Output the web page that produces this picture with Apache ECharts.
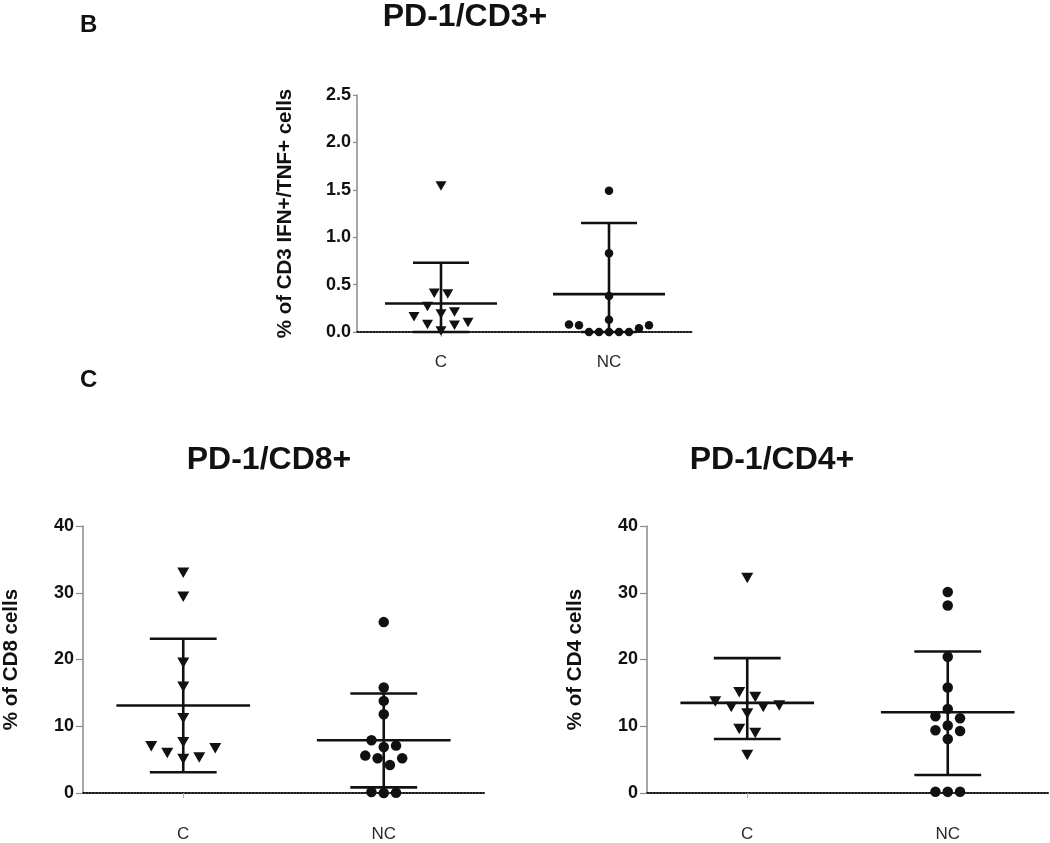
<!DOCTYPE html>
<html><head><meta charset="utf-8">
<script src="https://cdn.jsdelivr.net/npm/echarts@6/dist/echarts.min.js"></script>
<style>html,body{margin:0;padding:0;background:#fff}#main{width:1050px;height:843px}</style>
</head><body><div id="main"></div>
<script>
// ---------- data ----------
const categories = ['C', 'NC'];

// Panel B: PD-1/CD3+  (% of CD3 IFN+/TNF+ cells)
const cd3C  = [1.54, 0.41, 0.40, 0.27, 0.21, 0.19, 0.16, 0.10, 0.08, 0.07, 0.01];
const cd3NC = [1.49, 0.83, 0.38, 0.13, 0.08, 0.07, 0.07, 0.04, 0, 0, 0, 0, 0];
const cd3Mean  = [0.30, 0.40];
const cd3Upper = [0.73, 1.15];
const cd3Lower = [0.0, 0.0];

// Panel C left: PD-1/CD8+  (% of CD8 cells)
const cd8C  = [33.0, 29.4, 19.5, 15.9, 11.2, 7.6, 7.0, 6.7, 6.0, 5.3, 5.1];
const cd8NC = [25.6, 15.8, 13.8, 11.8, 7.9, 7.1, 6.9, 5.6, 5.2, 5.2, 4.2, 0.15, 0.05, 0];
const cd8Mean  = [13.1, 7.9];
const cd8Upper = [23.1, 14.9];
const cd8Lower = [3.1, 0.85];

// Panel C right: PD-1/CD4+  (% of CD4 cells)
const cd4C  = [32.2, 15.1, 14.4, 13.7, 13.1, 12.9, 12.9, 11.9, 9.6, 9.0, 5.7];
const cd4NC = [30.1, 28.1, 20.4, 15.8, 12.6, 11.5, 11.2, 10.1, 9.4, 9.3, 8.1, 0.2, 0.2, 0.2];
const cd4Mean  = [13.5, 12.1];
const cd4Upper = [20.2, 21.2];
const cd4Lower = [8.1, 2.7];

const titles = ['PD-1/CD3+', 'PD-1/CD8+', 'PD-1/CD4+'];
const yNames = ['% of CD3 IFN+/TNF+ cells', '% of CD8 cells', '% of CD4 cells'];
const yMaxs = [2.5, 40, 40];
const yIntervals = [0.5, 10, 10];

// ---------- layout / style ----------
const FONT = '"Liberation Sans", Arial, Helvetica, sans-serif';
const panels = [
  { grid: {left: 357, top: 95, width: 336, height: 237}, data: [cd3C, cd3NC], mean: cd3Mean, up: cd3Upper, lo: cd3Lower,
    tri: {size: [11, 9.5], step: 13.5, row: 14.5}, dot: {size: 8.5, step: 10, row: 11.5},
    tickLen: 4, labelMargin: 6, xLabelMargin: 22, nameGap: 61, decimals: 1 },
  { grid: {left: 83, top: 526, width: 401, height: 267}, data: [cd8C, cd8NC], mean: cd8Mean, up: cd8Upper, lo: cd8Lower,
    tri: {size: [12, 10.5], step: 16, row: 15}, dot: {size: 10.5, step: 12.3, row: 13},
    tickLen: 7, labelMargin: 9, xLabelMargin: 33, nameGap: 61, decimals: 0 },
  { grid: {left: 647, top: 526, width: 401, height: 267}, data: [cd4C, cd4NC], mean: cd4Mean, up: cd4Upper, lo: cd4Lower,
    tri: {size: [12, 10.5], step: 16, row: 15}, dot: {size: 10.5, step: 12.3, row: 13},
    tickLen: 7, labelMargin: 9, xLabelMargin: 33, nameGap: 61, decimals: 0 }
];

// GraphPad-like scatter arrangement: values grouped into rows, spread around the column centre
function swarm(values, catIdx, pxPerUnit, rowPx, stepPx) {
  const sorted = values.slice().sort((a, b) => a - b);
  const rows = [];
  let cur = null;
  sorted.forEach(v => {
    if (!cur || (v - cur.start) * pxPerUnit > rowPx) { cur = {start: v, items: []}; rows.push(cur); }
    cur.items.push(v);
  });
  const out = [];
  rows.forEach(r => {
    const n = r.items.length;
    r.items.forEach((v, i) => {
      let slot;
      if (n % 2 === 1) { const k = Math.ceil(i / 2); slot = i === 0 ? 0 : (i % 2 === 1 ? k : -k); }
      else { const k = Math.floor(i / 2) + 0.5; slot = i % 2 === 0 ? k : -k; }
      out.push({value: [catIdx, v], symbolOffset: [slot * stepPx, 0]});
    });
  });
  return out;
}

const grids = [], xAxes = [], yAxes = [], series = [];
panels.forEach((p, k) => {
  grids.push(p.grid);
  xAxes.push({
    type: 'category', gridIndex: k, data: categories, boundaryGap: true,
    axisLine: {show: true, onZero: true, lineStyle: {color: '#1a1a1a', width: 2, type: [1.6, 1.6]}},
    axisTick: {show: true, alignWithLabel: true, length: 5, inside: false, lineStyle: {color: '#b0b0b0', width: 1}},
    axisLabel: {show: true, margin: p.xLabelMargin, fontSize: 17, color: '#2a2a2a', fontFamily: FONT},
    splitLine: {show: false}
  });
  yAxes.push({
    type: 'value', gridIndex: k, min: 0, max: yMaxs[k], interval: yIntervals[k],
    name: yNames[k], nameLocation: 'middle', nameRotate: 90, nameGap: p.nameGap,
    nameTextStyle: {fontSize: 20.5, fontWeight: 'bold', color: '#111', fontFamily: FONT},
    axisLine: {show: true, lineStyle: {color: '#8a8a8a', width: 1.5}},
    axisTick: {show: true, length: p.tickLen, lineStyle: {color: '#8a8a8a', width: 1.2}},
    axisLabel: {show: true, margin: p.labelMargin, fontSize: 18, fontWeight: 'bold', color: '#111', fontFamily: FONT,
      formatter: v => v.toFixed(p.decimals)},
    splitLine: {show: false}
  });
  const pxPerUnit = p.grid.height / yMaxs[k];
  const statData = categories.map((c, i) => [i, p.mean[i], p.lo[i], p.up[i]]);
  series.push({
    type: 'custom', name: titles[k] + ' mean ± SD', xAxisIndex: k, yAxisIndex: k, z: 2, silent: true,
    data: statData, encode: {x: 0, y: [1, 2, 3]},
    renderItem: (params, api) => {
      const x = api.value(0);
      const m = api.coord([x, api.value(1)]);
      const lo = api.coord([x, api.value(2)]);
      const hi = api.coord([x, api.value(3)]);
      const band = api.size([1, 0])[0];
      const mw = band / 3, cw = band / 6;
      const st = {stroke: '#111', lineWidth: 2.6, fill: null};
      return {type: 'group', children: [
        {type: 'line', shape: {x1: m[0] - mw, y1: m[1], x2: m[0] + mw, y2: m[1]}, style: st},
        {type: 'line', shape: {x1: m[0], y1: lo[1], x2: m[0], y2: hi[1]}, style: st},
        {type: 'line', shape: {x1: m[0] - cw, y1: hi[1], x2: m[0] + cw, y2: hi[1]}, style: st},
        {type: 'line', shape: {x1: m[0] - cw, y1: lo[1], x2: m[0] + cw, y2: lo[1]}, style: st}
      ]};
    }
  });
  series.push({
    type: 'scatter', name: titles[k] + ' C', xAxisIndex: k, yAxisIndex: k, z: 3,
    symbol: 'path://M0,0L12,0L6,10Z', symbolSize: p.tri.size,
    itemStyle: {color: '#111', opacity: 1},
    data: swarm(p.data[0], 0, pxPerUnit, p.tri.row, p.tri.step)
  });
  series.push({
    type: 'scatter', name: titles[k] + ' NC', xAxisIndex: k, yAxisIndex: k, z: 3,
    symbol: 'circle', symbolSize: p.dot.size,
    itemStyle: {color: '#111', opacity: 1},
    data: swarm(p.data[1], 1, pxPerUnit, p.dot.row, p.dot.step)
  });
});

const chart = echarts.init(document.getElementById('main'), null, {renderer: 'canvas'});
chart.setOption({
  animation: false,
  backgroundColor: '#fff',
  grid: grids, xAxis: xAxes, yAxis: yAxes, series: series,
  graphic: [
    {type: 'text', left: 80, top: 13, style: {text: 'B', font: 'bold 24px ' + FONT, fill: '#111'}},
    {type: 'text', left: 80, top: 368, style: {text: 'C', font: 'bold 24px ' + FONT, fill: '#111'}},
    {type: 'text', x: 465, y: 17, style: {text: titles[0], font: 'bold 32px ' + FONT, fill: '#111', textAlign: 'center', textVerticalAlign: 'middle'}},
    {type: 'text', x: 269, y: 460, style: {text: titles[1], font: 'bold 32px ' + FONT, fill: '#111', textAlign: 'center', textVerticalAlign: 'middle'}},
    {type: 'text', x: 772, y: 460, style: {text: titles[2], font: 'bold 32px ' + FONT, fill: '#111', textAlign: 'center', textVerticalAlign: 'middle'}}
  ]
});
</script>
</body></html>
